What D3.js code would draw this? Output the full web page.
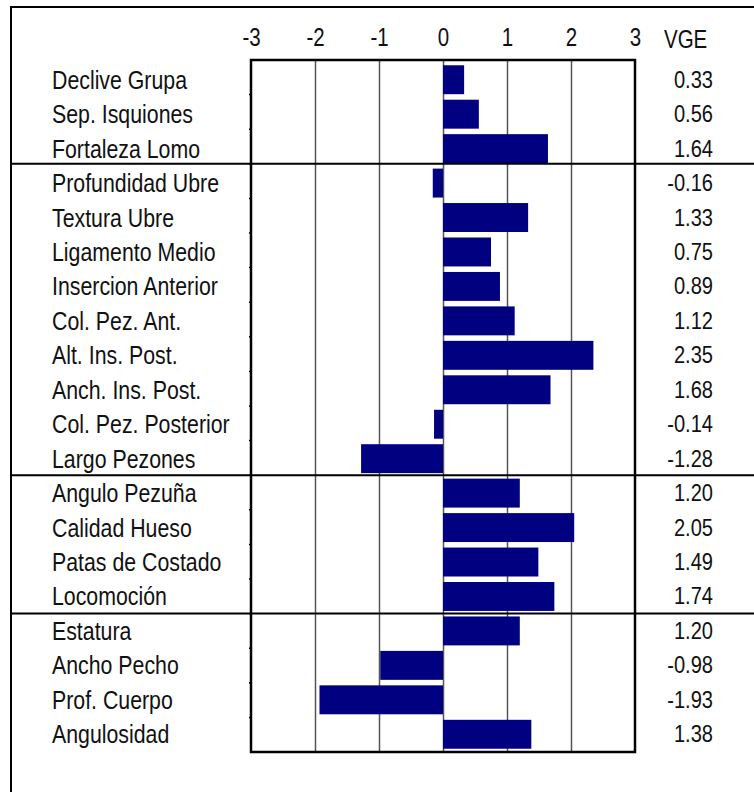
<!DOCTYPE html>
<html>
<head>
<meta charset="utf-8">
<script src="https://cdn.jsdelivr.net/npm/d3@7"></script>
<style>
    body { margin: 0; background: #fff; }
    text { font-family: "Liberation Sans", Arial, sans-serif; fill: #111; }
</style>
</head>
<body>
<div id="chart"></div>
<script>
const traits = [
    "Declive Grupa", "Sep. Isquiones", "Fortaleza Lomo",
    "Profundidad Ubre", "Textura Ubre", "Ligamento Medio", "Insercion Anterior",
    "Col. Pez. Ant.", "Alt. Ins. Post.", "Anch. Ins. Post.", "Col. Pez. Posterior", "Largo Pezones",
    "Angulo Pezuña", "Calidad Hueso", "Patas de Costado", "Locomoción",
    "Estatura", "Ancho Pecho", "Prof. Cuerpo", "Angulosidad"
];
const vge = [
    0.33, 0.56, 1.64,
    -0.16, 1.33, 0.75, 0.89, 1.12, 2.35, 1.68, -0.14, -1.28,
    1.20, 2.05, 1.49, 1.74,
    1.20, -0.98, -1.93, 1.38
];
// number of traits in each block (grupa, ubre, patas, estructura)
const groupSizes = [3, 9, 4, 4];
const xTicks = [-3, -2, -1, 0, 1, 2, 3];
const valueTitle = "VGE";

const width = 754;
const height = 792;
const plot = {left: 251, right: 635, top: 60, bottom: 752};
const narrow = 0.82;   // no Arial Narrow here, squeeze Liberation Sans instead

// plain hyphen as minus, like the original
const locale = d3.formatLocale({decimal: ".", thousands: ",", grouping: [3], currency: ["", ""], minus: "-"});
const fmtTick = locale.format("d");
const fmtVal = locale.format(".2f");

const svg = d3.select("#chart")
    .append("svg")
    .attr("width", width)
    .attr("height", height);

const x = d3.scaleLinear()
    .domain([-3, 3])
    .range([plot.left, plot.right]);

// rows for the frame / separators
const rows = d3.scaleLinear()
    .domain([0, traits.length])
    .range([plot.top, plot.bottom]);

// bars and labels
const y = d3.scaleBand()
    .domain(traits)
    .range([62.5, 751.5])
    .paddingInner(0.16)
    .paddingOuter(0.08);

// grid lines
svg.append("g")
    .attr("transform", `translate(0,${plot.bottom})`)
    .call(d3.axisBottom(x).tickValues(xTicks.slice(1, -1)).tickSize(-(plot.bottom - plot.top)).tickFormat(""))
    .call(g => g.select(".domain").remove())
    .call(g => g.selectAll(".tick line").attr("stroke", "#555").attr("stroke-width", 1.5));

// tick labels on top
svg.append("g")
    .attr("transform", `translate(0,${plot.top})`)
    .call(d3.axisTop(x).tickValues(xTicks).tickSize(0).tickPadding(14).tickFormat(fmtTick))
    .call(g => g.select(".domain").remove())
    .call(g => g.selectAll(".tick text")
        .attr("font-size", 25)
        .attr("font-family", null)
        .attr("fill", "#111")
        .attr("transform", `scale(${narrow},1)`));

// little category ticks on the left edge
svg.append("g")
    .selectAll("line")
    .data(d3.range(1, traits.length))
    .join("line")
    .attr("x1", plot.left - 2)
    .attr("x2", plot.left)
    .attr("y1", d => rows(d))
    .attr("y2", d => rows(d))
    .attr("stroke", "#000")
    .attr("stroke-width", 1.5);

// bars
svg.append("g")
    .selectAll("rect")
    .data(traits)
    .join("rect")
    .attr("x", (d, i) => x(Math.min(0, vge[i])))
    .attr("y", d => y(d))
    .attr("width", (d, i) => Math.abs(x(vge[i]) - x(0)))
    .attr("height", y.bandwidth())
    .attr("fill", "#000080");

// plot frame
svg.append("rect")
    .attr("x", plot.left)
    .attr("y", plot.top)
    .attr("width", plot.right - plot.left)
    .attr("height", plot.bottom - plot.top)
    .attr("fill", "none")
    .attr("stroke", "#000")
    .attr("stroke-width", 2.5);

// trait names
svg.append("g")
    .selectAll("text")
    .data(traits)
    .join("text")
    .attr("transform", d => `translate(52,${y(d) + y.bandwidth() / 2 + 9}) scale(${narrow},1)`)
    .attr("font-size", 26)
    .text(d => d);

// values column
svg.append("text")
    .attr("transform", `translate(664,48) scale(${narrow},1)`)
    .attr("font-size", 25)
    .text(valueTitle);

svg.append("g")
    .selectAll("text")
    .data(vge)
    .join("text")
    .attr("transform", (d, i) => `translate(713,${y(traits[i]) + y.bandwidth() / 2 + 8}) scale(${narrow},1)`)
    .attr("text-anchor", "end")
    .attr("font-size", 24.5)
    .text(d => fmtVal(d));

// block separators, full width
const breaks = d3.cumsum(groupSizes).slice(0, -1);
svg.append("g")
    .selectAll("line")
    .data(breaks)
    .join("line")
    .attr("x1", 11)
    .attr("x2", width)
    .attr("y1", d => rows(d))
    .attr("y2", d => rows(d))
    .attr("stroke", "#000")
    .attr("stroke-width", 2);

// outer frame (top and left only)
svg.append("line")
    .attr("x1", 10).attr("x2", width)
    .attr("y1", 7).attr("y2", 7)
    .attr("stroke", "#000").attr("stroke-width", 2);
svg.append("line")
    .attr("x1", 11).attr("x2", 11)
    .attr("y1", 6).attr("y2", height)
    .attr("stroke", "#000").attr("stroke-width", 2);
</script>
</body>
</html>
